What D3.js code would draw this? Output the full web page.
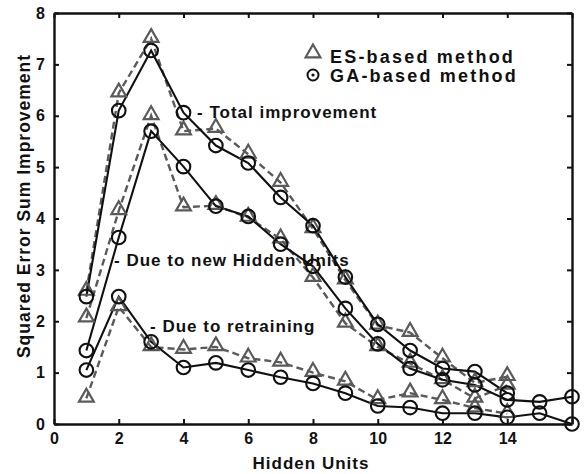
<!DOCTYPE html>
<html>
<head>
<meta charset="utf-8">
<script src="https://cdn.jsdelivr.net/npm/d3@7"></script>
<style>
  body { margin: 0; background: #fff; }
  text { font-family: Arial, "Liberation Sans", sans-serif; font-weight: bold; fill: #111; }
</style>
</head>
<body>
<div id="chart"></div>
<script>
// hidden units for each series
const unitsES = [1, 2, 3, 4, 5, 6, 7, 8, 9, 10, 11, 12, 13, 14]
const unitsGA = [1, 2, 3, 4, 5, 6, 7, 8, 9, 10, 11, 12, 13, 14, 15, 16]

// ES-based method
const esTotal   = [2.58, 6.44, 7.5, 5.7, 5.75, 5.25, 4.7, 3.8, 2.8, 1.92, 1.78, 1.28, 0.8, 0.92]
const esNew     = [2.06, 4.15, 6.0, 4.22, 4.25, 4.02, 3.6, 2.85, 1.96, 1.5, 1.18, 0.86, 0.5, 0.75]
const esRetrain = [0.5, 2.28, 1.5, 1.45, 1.5, 1.28, 1.2, 1.0, 0.83, 0.47, 0.6, 0.47, 0.31, 0.2]

// GA-based method
const gaTotal   = [2.48, 6.1, 7.27, 6.06, 5.42, 5.08, 4.41, 3.86, 2.86, 1.94, 1.43, 1.08, 1.02, 0.6]
const gaNew     = [1.43, 3.63, 5.7, 5.01, 4.24, 4.04, 3.5, 3.07, 2.25, 1.56, 1.08, 0.86, 0.76, 0.47, 0.43, 0.53]
const gaRetrain = [1.05, 2.48, 1.6, 1.1, 1.19, 1.05, 0.91, 0.79, 0.6, 0.35, 0.32, 0.21, 0.21, 0.13, 0.21, 0.0]

const xTicks = [0, 2, 4, 6, 8, 10, 12, 14, 16]
const xTickLabels = ['0', '2', '4', '6', '8', '10', '12', '14', '']
const yTicks = [0, 1, 2, 3, 4, 5, 6, 7, 8]

const W = 584, H = 474
const margin = { top: 13, right: 12, bottom: 50, left: 54 }

const svg = d3.select('#chart').append('svg')
  .attr('width', W)
  .attr('height', H)

const x = d3.scaleLinear().domain([0, 16]).range([margin.left, W - margin.right])
const y = d3.scaleLinear().domain([0, 8]).range([H - margin.bottom, margin.top])

const gray = '#5a5a5a'
const black = '#111'

// frame and ticks (ticks point inward on all four sides)
const tickLen = 5
svg.append('g')
  .attr('transform', `translate(0,${y(0)})`)
  .call(d3.axisBottom(x).tickValues(xTicks).tickSizeInner(-tickLen).tickSizeOuter(0)
    .tickFormat((d, i) => xTickLabels[i]).tickPadding(9))
svg.append('g')
  .attr('transform', `translate(0,${y(8)})`)
  .call(d3.axisTop(x).tickValues(xTicks).tickSizeInner(-tickLen).tickSizeOuter(0).tickFormat(''))
svg.append('g')
  .attr('transform', `translate(${x(0)},0)`)
  .call(d3.axisLeft(y).tickValues(yTicks).tickSizeInner(-tickLen).tickSizeOuter(0).tickPadding(9))
svg.append('g')
  .attr('transform', `translate(${x(16)},0)`)
  .call(d3.axisRight(y).tickValues(yTicks).tickSizeInner(-tickLen).tickSizeOuter(0).tickFormat(''))

svg.selectAll('.domain').attr('stroke', black).attr('stroke-width', 2.4)
svg.selectAll('.tick line').attr('stroke', black).attr('stroke-width', 2)
svg.selectAll('.tick text').style('font-size', '16px').attr('fill', black)

// axis titles
svg.append('text')
  .attr('x', 311).attr('y', 469)
  .attr('text-anchor', 'middle')
  .style('font-size', '17px')
  .style('letter-spacing', '1px')
  .text('Hidden Units')
svg.append('text')
  .attr('transform', 'translate(30,206) rotate(-90)')
  .attr('text-anchor', 'middle')
  .style('font-size', '17.5px')
  .style('letter-spacing', '1px')
  .text('Squared Error Sum Improvement')

const line = d3.line().x(d => x(d[0])).y(d => y(d[1]))

function drawSeries(units, values, isES) {
  const pts = units.map((u, i) => [u, values[i]])
  svg.append('path')
    .datum(pts)
    .attr('d', line)
    .attr('fill', 'none')
    .attr('stroke', isES ? gray : black)
    .attr('stroke-width', isES ? 2.4 : 2.1)
    .attr('stroke-dasharray', isES ? '7,4' : null)
  return pts
}

const triangle = d3.symbol().type(d3.symbolTriangle).size(95)

function drawTriangles(pts) {
  svg.append('g').selectAll('path')
    .data(pts)
    .join('path')
    .attr('d', triangle)
    .attr('transform', d => `translate(${x(d[0])},${y(d[1]) - 1})`)
    .attr('fill', 'none')
    .attr('stroke', gray)
    .attr('stroke-width', 2.2)
}

function drawCircles(pts) {
  svg.append('g').selectAll('circle')
    .data(pts)
    .join('circle')
    .attr('cx', d => x(d[0]))
    .attr('cy', d => y(d[1]))
    .attr('r', 6.8)
    .attr('fill', 'none')
    .attr('stroke', black)
    .attr('stroke-width', 2.1)
}

const esSets = [esTotal, esNew, esRetrain].map(v => drawSeries(unitsES, v, true))
const gaSets = [gaTotal, gaNew, gaRetrain].map(v => drawSeries(unitsGA.slice(0, v.length), v, false))
esSets.forEach(drawTriangles)
gaSets.forEach(drawCircles)

// curve annotations
const notes = [
  { text: '- Total improvement', x: 197, y: 118 },
  { text: '- Due to new Hidden Units', x: 114, y: 266 },
  { text: '- Due to retraining', x: 150, y: 332 }
]
svg.append('g').selectAll('text')
  .data(notes)
  .join('text')
  .attr('x', d => d.x)
  .attr('y', d => d.y)
  .style('font-size', '17px')
  .style('letter-spacing', '1px')
  .text(d => d.text)

// legend
const lg = svg.append('g')
lg.append('path')
  .attr('d', triangle)
  .attr('transform', 'translate(313,53)')
  .attr('fill', 'none')
  .attr('stroke', gray)
  .attr('stroke-width', 2.2)
lg.append('circle')
  .attr('cx', 313).attr('cy', 75).attr('r', 5.5)
  .attr('fill', 'none').attr('stroke', black).attr('stroke-width', 2)
lg.append('circle')
  .attr('cx', 313).attr('cy', 75).attr('r', 1.6)
  .attr('fill', black)
lg.append('text').attr('x', 330).attr('y', 63).style('font-size', '18px').style('letter-spacing', '2.2px').text('ES-based method')
lg.append('text').attr('x', 330).attr('y', 82).style('font-size', '18px').style('letter-spacing', '2.2px').text('GA-based method')
</script>
</body>
</html>
